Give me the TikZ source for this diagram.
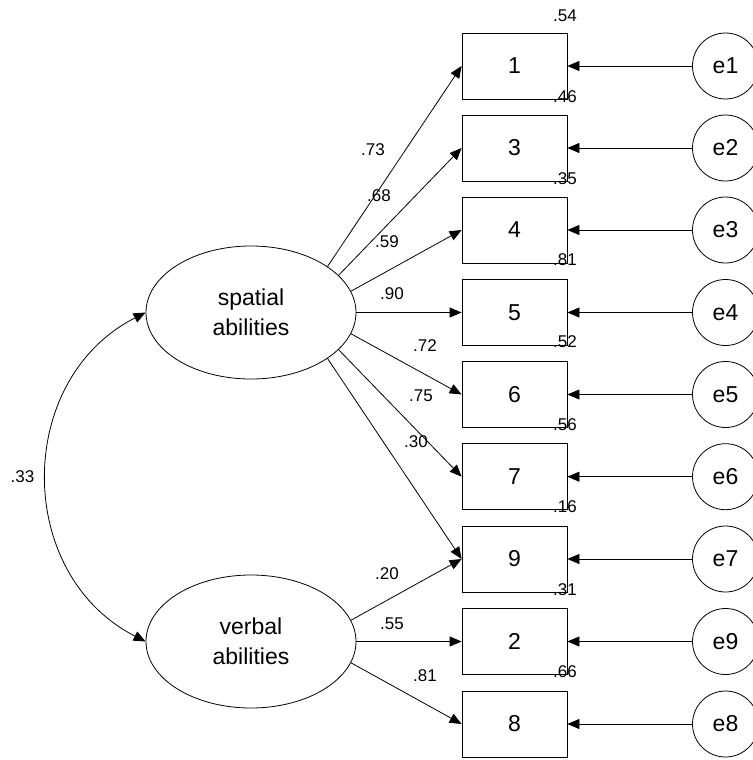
\documentclass[tikz,border=0pt]{standalone}
\usepackage{fontspec}
\setmainfont{Liberation Sans}
\usetikzlibrary{shapes.geometric,arrows.meta}
\begin{document}
\begin{tikzpicture}[x=1pt,y=1pt,
  obs/.style={draw, line width=0.8pt, minimum width=105pt, minimum height=66pt, inner sep=0pt, font=\fontsize{23}{27}\selectfont},
  err/.style={draw, line width=0.8pt, circle, minimum size=66pt, inner sep=0pt, font=\fontsize{23}{27}\selectfont},
  lat/.style={draw, line width=0.8pt, ellipse, minimum width=210pt, minimum height=133pt, inner sep=0pt, align=center, font=\fontsize{23}{30}\selectfont},
  coef/.style={font=\fontsize{17}{20}\selectfont, inner sep=0pt},
  arr/.style={-{Triangle[length=12pt,width=10pt]}, line width=0.8pt},
  darr/.style={{Triangle[length=12pt,width=10pt]}-{Triangle[length=12pt,width=10pt]}, line width=0.8pt},
]
\useasboundingbox (0,0) rectangle (752,-760);
% latent variables
\node[lat] (sp) at (251,-312.5) {spatial\\abilities};
\node[lat] (vb) at (251,-641.5) {verbal\\abilities};
% observed variables
\node[obs] (b1) at (514.5,-66) {1};
\node[obs] (b3) at (514.5,-148) {3};
\node[obs] (b4) at (514.5,-230) {4};
\node[obs] (b5) at (514.5,-312.5) {5};
\node[obs] (b6) at (514.5,-394.5) {6};
\node[obs] (b7) at (514.5,-476.7) {7};
\node[obs] (b9) at (514.5,-559) {9};
\node[obs] (b2) at (514.5,-641.5) {2};
\node[obs] (b8) at (514.5,-724) {8};
% error terms
\node[err] (e1) at (725.5,-66) {e1};
\node[err] (e2) at (725.5,-148) {e2};
\node[err] (e3) at (725.5,-230) {e3};
\node[err] (e4) at (725.5,-312.5) {e4};
\node[err] (e5) at (725.5,-394.5) {e5};
\node[err] (e6) at (725.5,-476.7) {e6};
\node[err] (e7) at (725.5,-559) {e7};
\node[err] (e9) at (725.5,-641.5) {e9};
\node[err] (e8) at (725.5,-724) {e8};
% error arrows
\draw[arr] (e1) -- (b1);
\draw[arr] (e2) -- (b3);
\draw[arr] (e3) -- (b4);
\draw[arr] (e4) -- (b5);
\draw[arr] (e5) -- (b6);
\draw[arr] (e6) -- (b7);
\draw[arr] (e7) -- (b9);
\draw[arr] (e9) -- (b2);
\draw[arr] (e8) -- (b8);
% loadings
\draw[arr] (sp.31) -- (b1.west);
\draw[arr] (sp.23) -- (b3.west);
\draw[arr] (sp.12.6) -- (b4.west);
\draw[arr] (sp.0) -- (b5.west);
\draw[arr] (sp.-12.6) -- (b6.west);
\draw[arr] (sp.-23) -- (b7.west);
\draw[arr] (sp.-31) -- (b9.west);
\draw[arr] (vb.12.6) -- (b9.west);
\draw[arr] (vb.0) -- (b2.west);
\draw[arr] (vb.-12.6) -- (b8.west);
% covariance
\draw[darr] (sp.west) to[out=207,in=153,looseness=1.15] (vb.west);
% labels
\node[coef] (c33) at (22.5,-477) {.33};
\node[coef] (c73) at (373,-150) {.73};
\node[coef] (c68) at (379,-195.5) {.68};
\node[coef] (c59) at (387,-242) {.59};
\node[coef] (c90) at (392,-294) {.90};
\node[coef] (c72) at (425,-346) {.72};
\node[coef] (c75) at (421,-396) {.75};
\node[coef] (c30) at (416,-442) {.30};
\node[coef] (c20) at (387,-574) {.20};
\node[coef] (c55) at (392,-624) {.55};
\node[coef] (c81) at (425,-676) {.81};
% squared multiple correlations
\node[coef] (r1) at (565,-16) {.54};
\node[coef] (r3) at (565,-97) {.46};
\node[coef] (r4) at (565,-178.5) {.35};
\node[coef] (r5) at (565,-260) {.81};
\node[coef] (r6) at (565,-342) {.52};
\node[coef] (r7) at (565,-425) {.56};
\node[coef] (r9) at (565,-507) {.16};
\node[coef] (r2) at (565,-590) {.31};
\node[coef] (r8) at (565,-672) {.66};
\end{tikzpicture}
\end{document}
